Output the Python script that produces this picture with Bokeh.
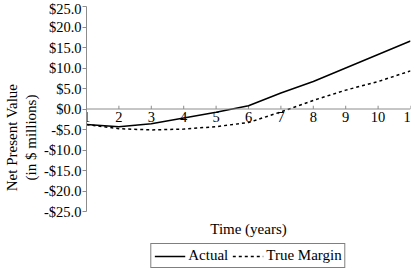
from bokeh.plotting import figure
from bokeh.models import Range1d, Span, Legend, LegendItem, CustomJSTickFormatter, FixedTicker, ColumnDataSource, Label
from bokeh.core.properties import value
from bokeh.embed import file_html
from bokeh.resources import INLINE

years = [1, 2, 3, 4, 5, 6, 7, 8, 9, 10, 11]
year_labels = ["1", "2", "3", "4", "5", "6", "7", "8", "9", "10", "11"]
actual = [-3.8, -4.3, -3.6, -2.2, -0.8, 0.8, 3.9, 6.7, 10.0, 13.3, 16.6]
true_margin = [-3.8, -4.8, -5.1, -4.9, -4.3, -3.3, -0.7, 2.1, 4.6, 6.7, 9.3]
y_ticks = [-25, -20, -15, -10, -5, 0, 5, 10, 15, 20, 25]

FONT = "Liberation Serif"
GRAY = "#8c8c8c"

p = figure(width=415, height=268, output_backend="svg", toolbar_location=None,
           x_axis_location=None,
           x_range=Range1d(1, 11), y_range=Range1d(-38.9, 25),
           min_border_top=6, min_border_right=5, min_border_bottom=0, min_border_left=0)
p.outline_line_color = None
p.grid.visible = False
p.background_fill_color = "white"

# y axis
p.yaxis.bounds = (-25, 25)
p.yaxis.ticker = FixedTicker(ticks=y_ticks)
p.yaxis.formatter = CustomJSTickFormatter(code="return (tick < 0 ? '-' : '') + '$' + Math.abs(tick).toFixed(1);")
p.yaxis.axis_line_color = GRAY
p.yaxis.major_tick_line_color = GRAY
p.yaxis.major_tick_out = 4
p.yaxis.major_tick_in = 0
p.yaxis.minor_tick_line_color = None
p.yaxis.major_label_standoff = 1
p.yaxis.major_label_text_font = FONT
p.yaxis.major_label_text_font_size = "14.5px"
p.yaxis.major_label_text_color = "black"
p.yaxis.axis_label = "Net Present Value\n(in $ millions)"
p.yaxis.axis_label_text_font = FONT
p.yaxis.axis_label_text_font_size = "15px"
p.yaxis.axis_label_text_font_style = "normal"
p.yaxis.axis_label_text_color = "black"
p.yaxis.axis_label_standoff = 2

# x axis title
p.add_layout(Label(x=6, y=40, x_units="data", y_units="screen", text="Time (years)",
                   text_align="center", text_baseline="middle",
                   text_font=FONT, text_font_size="15px", text_font_style="normal",
                   text_color="black"))

# zero line acting as x axis
p.add_layout(Span(location=0, dimension="width", line_color=GRAY, line_width=1))
src = ColumnDataSource(dict(x=years, y0=[0] * len(years), y1=[0.8] * len(years), t=year_labels))
p.segment(x0="x", y0="y0", x1="x", y1="y1", source=src, line_color=GRAY, line_width=1)
p.text(x="x", y="y0", text="t", source=src, y_offset=3, text_align="center", text_baseline="top",
       text_font=value(FONT), text_font_size="14.5px", text_color="black")

r1 = p.line(years, actual, line_color="black", line_width=1.5)
r2 = p.line(years, true_margin, line_color="black", line_width=1.5, line_dash="3 3")

legend = Legend(items=[LegendItem(label="Actual", renderers=[r1]),
                       LegendItem(label="True Margin", renderers=[r2])],
                orientation="horizontal", location="bottom_center")
legend.border_line_color = "black"
legend.border_line_width = 1
legend.background_fill_alpha = 0
legend.label_text_font = FONT
legend.label_text_font_size = "15px"
legend.label_text_color = "black"
legend.glyph_width = 31
legend.glyph_height = 14
legend.label_standoff = 3
legend.spacing = 4
legend.padding = 3
legend.margin = 0
legend.label_height = 14
p.add_layout(legend)

open("out.html", "w").write(file_html(p, INLINE))
